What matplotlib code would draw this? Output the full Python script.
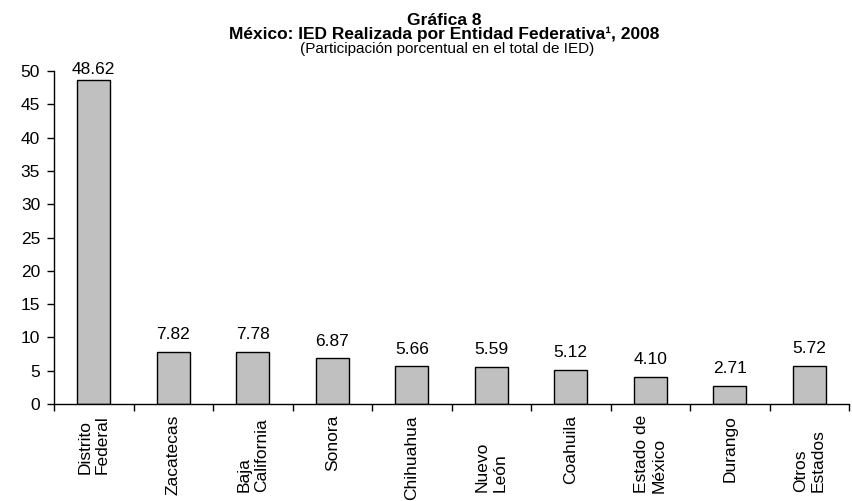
import matplotlib
matplotlib.use("Agg")
import matplotlib.pyplot as plt
import numpy as np

categories = ["Distrito\nFederal", "Zacatecas", "Baja\nCalifornia", "Sonora", "Chihuahua",
              "Nuevo\nLeón", "Coahuila", "Estado de\nMéxico", "Durango", "Otros\nEstados"]
values = [48.62, 7.82, 7.78, 6.87, 5.66, 5.59, 5.12, 4.10, 2.71, 5.72]
value_labels = ["48.62", "7.82", "7.78", "6.87", "5.66", "5.59", "5.12", "4.10", "2.71", "5.72"]
yticks = [0, 5, 10, 15, 20, 25, 30, 35, 40, 45, 50]
label_anchor = ["top", "top", "bottom", "top", "top", "bottom", "top", "top", "top", "bottom"]

plt.rcParams['font.family'] = ['Liberation Sans', 'DejaVu Sans']

W, H = 852, 501
fig = plt.figure(figsize=(W / 100, H / 100), dpi=100)
ax = fig.add_axes([54 / W, 1 - 404 / H, (849 - 54) / W, (404 - 71) / H])

x = np.arange(len(categories))
ax.bar(x, values, width=0.415, color="#C0C0C0", edgecolor="black", linewidth=1.0, zorder=2)

ax.set_xlim(-0.5, len(categories) - 0.5)
ax.set_ylim(0, 50)
ax.set_yticks(yticks)
ax.set_yticklabels([str(t) for t in yticks], fontsize=12.5)
ax.tick_params(axis="y", direction="out", length=5, width=1, pad=5)
ax.set_xticks(np.arange(len(categories) + 1) - 0.5)
ax.set_xticklabels([])
ax.tick_params(axis="x", direction="out", length=5, width=1)

for s in ["top", "right"]:
    ax.spines[s].set_visible(False)
for s in ["left", "bottom"]:
    ax.spines[s].set_linewidth(1.0)

for xi, v, lab in zip(x, values, value_labels):
    off = 7 if v < 45 else 2
    ax.annotate(lab, (xi, v), xytext=(0, off), textcoords="offset points",
                ha="center", va="bottom", fontsize=12.5, annotation_clip=False)

trans = ax.get_xaxis_transform()
for xi, cat, anc in zip(x, categories, label_anchor):
    if anc == "top":
        yy = -(415 - 404) / (404 - 71)
        va = "top"
    else:
        yy = -(492 - 404) / (404 - 71)
        va = "bottom"
    ax.text(xi, yy, cat, transform=trans, rotation=90, ha="center", va=va,
            multialignment="left", fontsize=12.5, clip_on=False)

cx = 444 / W
fig.text(cx, 1 - 25 / H, "Gráfica 8", ha="center", va="baseline", fontsize=12.5, fontweight="bold")
fig.text(cx, 1 - 39 / H, "México: IED Realizada por Entidad Federativa¹, 2008", ha="center",
         va="baseline", fontsize=12.5, fontweight="bold")
fig.text(cx + 3 / W, 1 - 53 / H, "(Participación porcentual en el total de IED)", ha="center",
         va="baseline", fontsize=11)

fig.savefig("out.png", dpi=100)
